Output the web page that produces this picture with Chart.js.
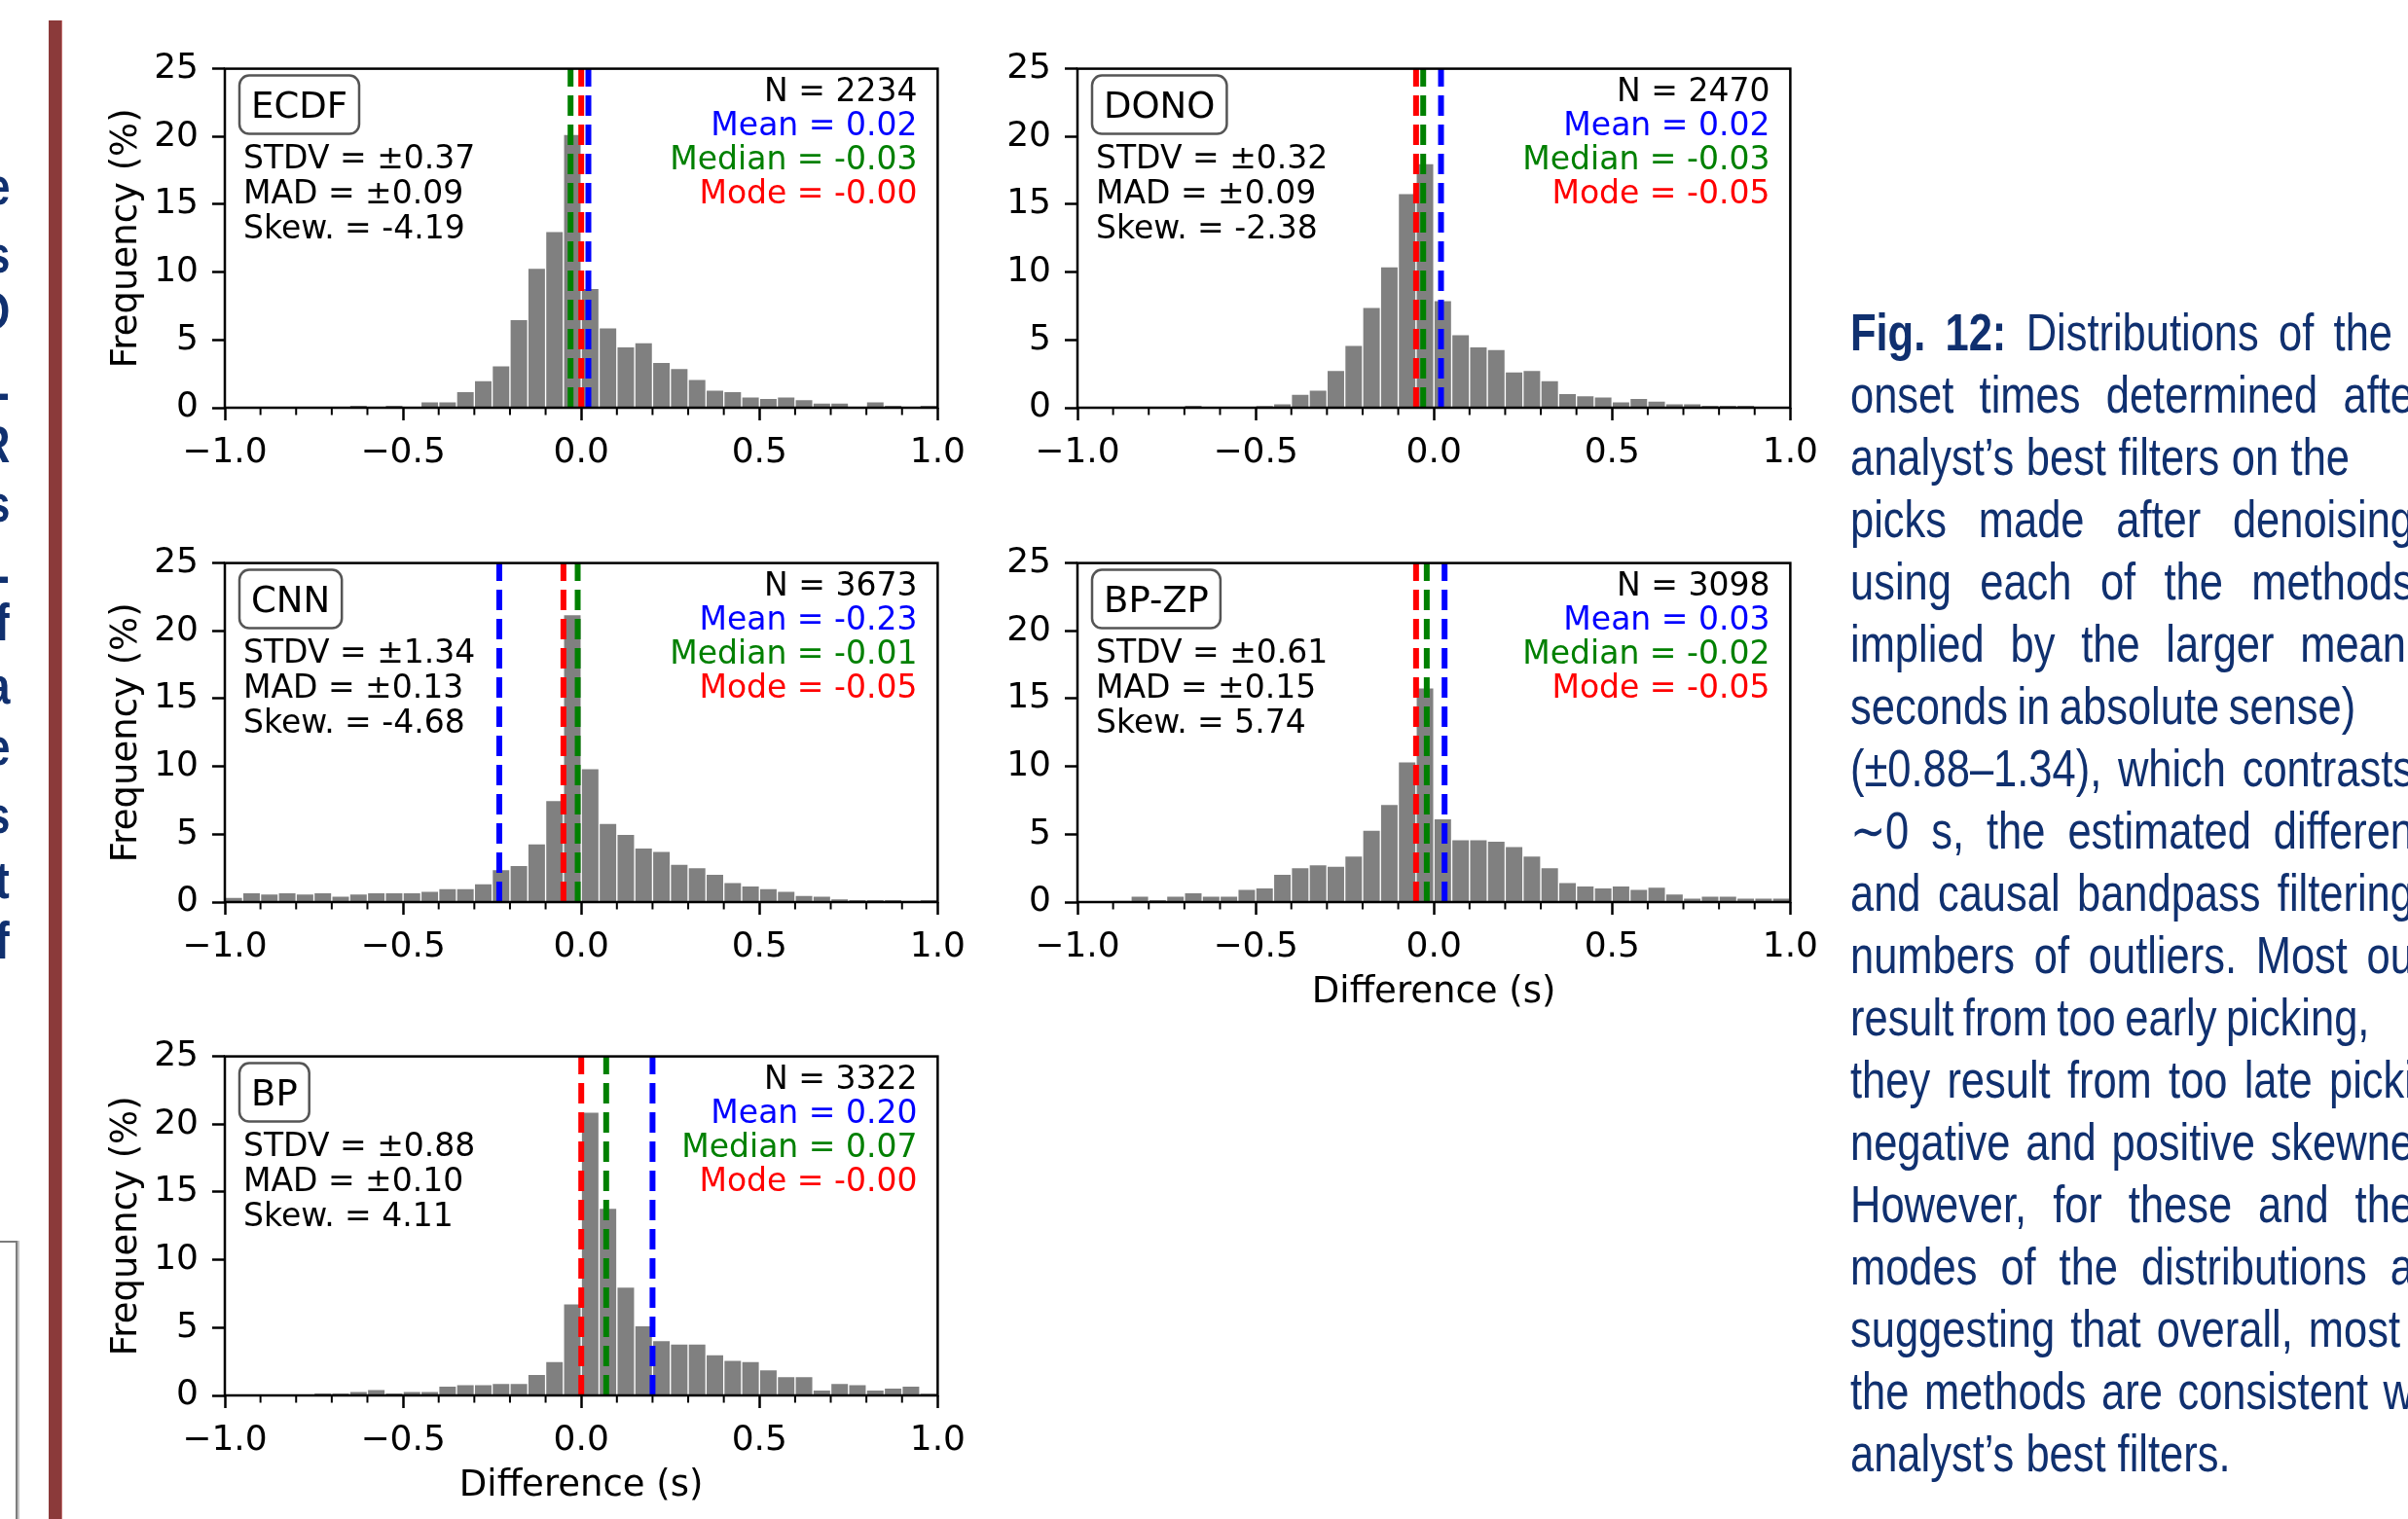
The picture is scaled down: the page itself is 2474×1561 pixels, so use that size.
<!DOCTYPE html>
<html>
<head>
<meta charset="utf-8">
<script src="https://cdn.jsdelivr.net/npm/chart.js@4.4.1/dist/chart.umd.min.js"></script>
<style>
  html, body { margin: 0; padding: 0; background: #fff; }
  body { width: 2474px; height: 1561px; position: relative; overflow: hidden; }
  canvas { position: absolute; }
  .cap {
    position: absolute; left: 1901px; height: 64px; white-space: nowrap;
    display: flex; justify-content: space-between; column-gap: 0.22em;
    font-family: "Liberation Sans", Arial, sans-serif; font-size: 53px; line-height: 64px;
    color: #10306f; transform: scaleX(0.82); transform-origin: 0 0;
  }
  .cap.last { display: block; }
  .edge {
    position: absolute; right: 2464px; height: 64px; white-space: nowrap;
    font-family: "Liberation Sans", Arial, sans-serif; font-size: 53px; line-height: 64px; font-weight: bold;
    color: #10306f; text-align: right; transform: scaleX(0.82); transform-origin: 100% 0;
  }
  .redbar { position: absolute; left: 50px; top: 21px; width: 13px; bottom: 0; background: #8b3a3a; border-right: 1px solid #c27070; }
  .oldbox { position: absolute; left: -20px; top: 1275px; width: 34px; height: 400px; border: 2px solid #7c7c7c; box-shadow: 2px 0 0 #c4c4c4; }
</style>
</head>
<body>
<div class="redbar"></div>
<div class="oldbox"></div>
<script>
// 直方圖的箱子中心 (s)
const binCenters = [-0.975, -0.925, -0.875, -0.825, -0.775, -0.725, -0.675, -0.625, -0.575, -0.525,
  -0.475, -0.425, -0.375, -0.325, -0.275, -0.225, -0.175, -0.125, -0.075, -0.025,
  0.025, 0.075, 0.125, 0.175, 0.225, 0.275, 0.325, 0.375, 0.425, 0.475,
  0.525, 0.575, 0.625, 0.675, 0.725, 0.775, 0.825, 0.875, 0.925, 0.975];

// 各方法的頻率 (%)
const ecdfFreq = [0, 0, 0, 0, 0, 0.05, 0, 0.2, 0.05, 0.2, 0.05, 0.45, 0.45, 1.2, 2.0, 3.1, 6.5, 10.3, 13.0, 20.15,
  8.8, 5.9, 4.5, 4.8, 3.35, 2.9, 2.1, 1.3, 1.2, 0.8, 0.7, 0.8, 0.6, 0.35, 0.35, 0.05, 0.45, 0.2, 0.05, 0.2];
const donoFreq = [0, 0, 0, 0, 0, 0, 0.2, 0, 0, 0, 0.15, 0.3, 1.0, 1.3, 2.75, 4.6, 7.4, 10.4, 15.8, 18.0,
  7.9, 5.4, 4.5, 4.3, 2.65, 2.75, 2.0, 1.05, 0.9, 0.8, 0.45, 0.7, 0.5, 0.3, 0.3, 0.2, 0.2, 0.2, 0, 0];
const cnnFreq = [0.35, 0.7, 0.6, 0.7, 0.6, 0.7, 0.45, 0.6, 0.7, 0.7, 0.7, 0.8, 1.0, 1.0, 1.35, 2.4, 2.7, 4.3, 7.5, 21.2,
  9.85, 5.8, 5.0, 4.0, 3.75, 2.8, 2.55, 2.05, 1.45, 1.2, 1.0, 0.8, 0.5, 0.45, 0.25, 0.2, 0.2, 0.2, 0.1, 0.2];
const bpzpFreq = [0, 0, 0.1, 0.45, 0.2, 0.45, 0.7, 0.45, 0.45, 0.95, 1.05, 2.05, 2.55, 2.75, 2.65, 3.4, 5.3, 7.2, 10.35, 15.8,
  6.15, 4.6, 4.6, 4.5, 4.1, 3.4, 2.55, 1.45, 1.2, 1.05, 1.2, 0.95, 1.1, 0.6, 0.3, 0.45, 0.45, 0.3, 0.3, 0.3];
const bpFreq = [0, 0, 0, 0, 0, 0.2, 0.2, 0.3, 0.45, 0.2, 0.3, 0.3, 0.7, 0.8, 0.8, 0.9, 0.9, 1.55, 2.5, 6.75,
  20.9, 13.8, 8.0, 5.15, 4.05, 3.8, 3.8, 3.0, 2.6, 2.5, 1.9, 1.4, 1.4, 0.4, 0.9, 0.8, 0.4, 0.55, 0.7, 0.15];

// 統計量
const panelNames = ['ECDF', 'DONO', 'CNN', 'BP-ZP', 'BP'];
const nVals = [2234, 2470, 3673, 3098, 3322];
const meanVals = [0.02, 0.02, -0.23, 0.03, 0.20];
const medianVals = [-0.03, -0.03, -0.01, -0.02, 0.07];
const modeVals = [-0.00, -0.05, -0.05, -0.05, -0.00];
const stdvVals = [0.37, 0.32, 1.34, 0.61, 0.88];
const madVals = [0.09, 0.09, 0.13, 0.15, 0.10];
const skewVals = [-4.19, -2.38, -4.68, 5.74, 4.11];

// 刻度
const xTickVals = [-1.0, -0.5, 0.0, 0.5, 1.0];
const xMinorVals = [-0.9, -0.8, -0.7, -0.6, -0.4, -0.3, -0.2, -0.1, 0.1, 0.2, 0.3, 0.4, 0.6, 0.7, 0.8, 0.9];
const yTickVals = [0, 5, 10, 15, 20, 25];

// 右側圖說文字 (逐行)
const captionLines = [
  'Fig. 12: Distributions of the',
  'onset times determined afte',
  'analyst’s best filters on the',
  'picks made after denoising',
  'using each of the methods',
  'implied by the larger mean',
  'seconds in absolute sense)',
  '(±0.88–1.34), which contrasts',
  '∼0 s, the estimated differen',
  'and causal bandpass filtering',
  'numbers of outliers. Most ou',
  'result from too early picking,',
  'they result from too late picki',
  'negative and positive skewne',
  'However, for these and the',
  'modes of the distributions a',
  'suggesting that overall, most',
  'the methods are consistent w',
  'analyst’s best filters.'
];
// 左側被裁切的文字行尾
const edgeChars = ['e', 's', 'O', '-', 'R', 's', '-', 'f', 'a', 'e', 's', 't', 'f'];

// 版面
const freqs = [ecdfFreq, donoFreq, cnnFreq, bpzpFreq, bpFreq];
const panelLeft = [231, 1107, 231, 1107, 231];
const panelTop = [65, 65, 573, 573, 1080];
const PLOT_W = 733, PLOT_H = 354, AXIS_W = 140, PAD_T = 30, PAD_R = 40, XAXIS_H = 120;
const captionEnds = [2458, 2480, 2414, 2480, 2480, 2472, 2380, 2480, 2480, 2480, 2480, 2428, 2480, 2480, 2480, 2480, 2466, 2480, 0];
const edgeCenters = [192, 262, 320, 404, 457, 518, 592, 640, 705, 768, 838, 905, 967];

captionLines.forEach((t, k) => {
  const d = document.createElement('div');
  const last = k === captionLines.length - 1;
  d.className = 'cap' + (last ? ' last' : '');
  d.style.top = (342 - 32 + k * 64) + 'px';
  if (last) {
    d.textContent = t;
  } else {
    d.style.width = ((captionEnds[k] - 1901) / 0.82) + 'px';
    t.split(' ').forEach((word, j) => {
      const s = document.createElement(k === 0 && j < 2 ? 'b' : 'span');
      s.textContent = word;
      d.appendChild(s);
    });
  }
  document.body.appendChild(d);
});
edgeChars.forEach((c, k) => {
  const d = document.createElement('div');
  d.className = 'edge';
  d.style.top = (edgeCenters[k] - 32) + 'px';
  d.textContent = c;
  document.body.appendChild(d);
});

const fmtVal = v => (Object.is(v, -0) ? '-' : '') + v.toFixed(2);
const fmtTick = v => (v < 0 ? '\u2212' : '') + Math.abs(v).toFixed(1);

function roundRect(ctx, x, y, w, h, r) {
  ctx.beginPath();
  ctx.moveTo(x + r, y);
  ctx.arcTo(x + w, y, x + w, y + h, r);
  ctx.arcTo(x + w, y + h, x, y + h, r);
  ctx.arcTo(x, y + h, x, y, r);
  ctx.arcTo(x, y, x + w, y, r);
  ctx.closePath();
}

function makePanel(i) {
  const canvas = document.createElement('canvas');
  canvas.width = AXIS_W + PLOT_W + PAD_R;
  canvas.height = PAD_T + PLOT_H + XAXIS_H;
  canvas.style.left = (panelLeft[i] - AXIS_W) + 'px';
  canvas.style.top = (panelTop[i] - PAD_T) + 'px';
  document.body.appendChild(canvas);

  const decor = {
    id: 'decor',
    afterDraw(chart) {
      const { ctx, chartArea: a, scales: { x } } = chart;
      ctx.save();
      // 次刻度
      ctx.strokeStyle = '#000';
      ctx.lineWidth = 2;
      xMinorVals.forEach(v => {
        const px = x.getPixelForValue(v);
        ctx.beginPath();
        ctx.moveTo(px, a.bottom);
        ctx.lineTo(px, a.bottom + 7.5);
        ctx.stroke();
      });
      // 外框
      ctx.lineWidth = 2.5;
      ctx.strokeRect(a.left, a.top, a.right - a.left, a.bottom - a.top);

      // 右上角統計
      ctx.font = '33px "DejaVu Sans"';
      ctx.textBaseline = 'alphabetic';
      ctx.textAlign = 'right';
      const rx = a.right - 21;
      ctx.fillStyle = '#000000';
      ctx.fillText('N = ' + nVals[i], rx, a.top + 33);
      ctx.fillStyle = '#0000ff';
      ctx.fillText('Mean = ' + fmtVal(meanVals[i]), rx, a.top + 68);
      ctx.fillStyle = '#008000';
      ctx.fillText('Median = ' + fmtVal(medianVals[i]), rx, a.top + 103);
      ctx.fillStyle = '#ff0000';
      ctx.fillText('Mode = ' + fmtVal(modeVals[i]), rx, a.top + 138);

      // 左上角統計
      ctx.textAlign = 'left';
      ctx.fillStyle = '#000000';
      const lx = a.left + 19;
      ctx.fillText('STDV = \u00b1' + stdvVals[i].toFixed(2), lx, a.top + 102);
      ctx.fillText('MAD = \u00b1' + madVals[i].toFixed(2), lx, a.top + 138);
      ctx.fillText('Skew. = ' + skewVals[i].toFixed(2), lx, a.top + 174);

      // 方法名稱框
      ctx.font = '37px "DejaVu Sans"';
      const w = ctx.measureText(panelNames[i]).width;
      roundRect(ctx, a.left + 15, a.top + 7, w + 24, 60, 10);
      ctx.fillStyle = '#ffffff';
      ctx.fill();
      ctx.strokeStyle = '#555555';
      ctx.lineWidth = 2.5;
      ctx.stroke();
      ctx.fillStyle = '#000000';
      ctx.fillText(panelNames[i], a.left + 27, a.top + 50);
      ctx.restore();
    }
  };

  const vline = (v, color, order, label) => ({
    type: 'line', label: label,
    data: [{ x: v, y: 0 }, { x: v, y: 25 }],
    borderColor: color, borderWidth: 6, borderDash: [21, 9],
    pointRadius: 0, order: order
  });

  new Chart(canvas.getContext('2d'), {
    type: 'bar',
    data: {
      datasets: [
        vline(modeVals[i], '#ff0000', 1, 'Mode'),
        vline(medianVals[i], '#008000', 2, 'Median'),
        vline(meanVals[i], '#0000ff', 3, 'Mean'),
        {
          type: 'bar', label: 'Frequency',
          data: binCenters.map((c, k) => ({ x: c, y: freqs[i][k] })),
          backgroundColor: '#808080', borderColor: '#ffffff', borderWidth: 1,
          barPercentage: 1, categoryPercentage: 1, order: 4
        }
      ]
    },
    options: {
      responsive: false,
      animation: false,
      devicePixelRatio: 1,
      layout: { padding: { top: PAD_T, right: PAD_R, left: 0, bottom: 0 } },
      plugins: { legend: { display: false }, tooltip: { enabled: false } },
      scales: {
        x: {
          type: 'linear', min: -1, max: 1, offset: false,
          afterFit: s => { s.height = XAXIS_H; },
          afterBuildTicks: s => { s.ticks = xTickVals.map(v => ({ value: v })); },
          grid: { display: true, drawOnChartArea: false, drawTicks: true, tickLength: 13, tickWidth: 2.5, tickColor: '#000', offset: false },
          border: { display: false },
          ticks: { color: '#000', font: { family: 'DejaVu Sans', size: 36 }, padding: 12, maxRotation: 0, autoSkip: false, callback: v => fmtTick(v) },
          title: { display: i === 3 || i === 4, text: 'Difference (s)', color: '#000', font: { family: 'DejaVu Sans', size: 37 }, padding: { top: 0, bottom: 4 } }
        },
        y: {
          min: 0, max: 25,
          afterFit: s => { s.width = AXIS_W; },
          afterBuildTicks: s => { s.ticks = yTickVals.map(v => ({ value: v })); },
          grid: { display: true, drawOnChartArea: false, drawTicks: true, tickLength: 13, tickWidth: 2.5, tickColor: '#000' },
          border: { display: false },
          ticks: { color: '#000', font: { family: 'DejaVu Sans', size: 36 }, padding: 14, callback: v => String(v) },
          title: { display: i % 2 === 0, text: 'Frequency (%)', color: '#000', font: { family: 'DejaVu Sans', size: 37 }, padding: { top: 17, bottom: 0 } }
        }
      }
    },
    plugins: [decor]
  });
}

for (let i = 0; i < panelNames.length; i++) makePanel(i);
</script>
</body>
</html>
